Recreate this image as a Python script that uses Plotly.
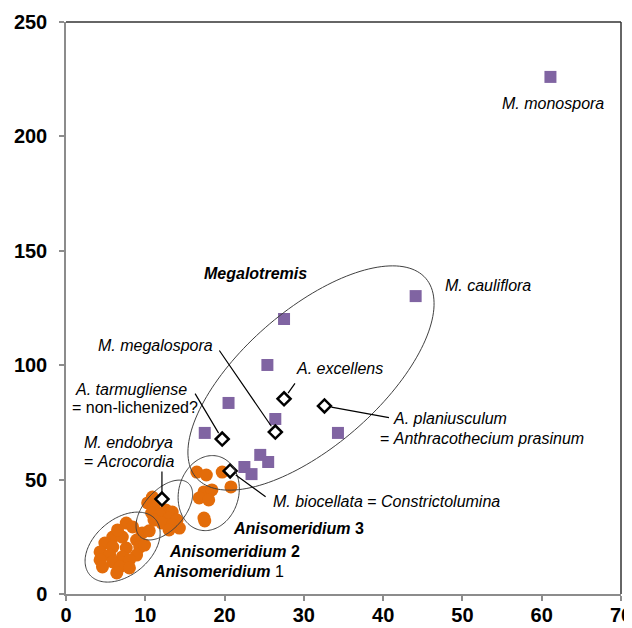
"""Megalotremis / Anisomeridium scatter with group ellipses."""

import numpy as np
import plotly.graph_objects as go

# --- data ----------------------------------------------------------------
aniso_x = [7.6, 8.4, 9.6, 10.5, 5.9, 7.1, 8.9, 4.9, 5.9, 7.6, 9.3, 4.3, 5.5, 7.1, 8.9,
           4.3, 5.9, 8.0, 4.6, 6.8, 6.4, 8.0, 6.5, 9.9,
           10.9, 10.3, 11.1, 12.6, 13.4, 10.8, 11.8, 13.0, 14.0, 11.1, 12.1, 13.4, 14.3, 13.0,
           16.5, 17.7, 19.7, 20.8, 17.4, 18.4, 16.8, 18.0, 17.4, 17.5]
aniso_y = [31.0, 29.3, 26.7, 27.6, 24.9, 24.9, 23.6, 22.3, 20.5, 20.1, 20.5, 18.4, 17.0, 16.2, 17.0,
           14.9, 14.0, 14.9, 11.8, 11.8, 9.2, 11.4, 28.0, 21.4,
           42.4, 39.8, 38.0, 36.7, 35.8, 35.4, 34.5, 33.2, 32.3, 32.3, 31.0, 30.2, 28.8, 28.0,
           53.3, 52.0, 53.3, 46.8, 44.6, 45.5, 42.0, 41.1, 33.2, 31.9]

megalo_x = [61.1, 44.1, 27.5, 25.4, 20.5, 17.5, 26.4, 34.3, 24.5, 25.5, 22.5, 23.4]
megalo_y = [226.0, 130.2, 120.2, 100.1, 83.5, 70.4, 76.5, 70.4, 60.8, 57.7, 55.5, 52.4]

other_names = ["A. tarmugliense", "M. megalospora", "A. excellens",
               "A. planiusculum", "M. biocellata", "M. endobrya"]
other_x = [19.7, 26.4, 27.5, 32.6, 20.7, 12.1]
other_y = [67.7, 70.8, 85.3, 82.2, 53.8, 41.5]

ORANGE = "#E36C0A"
PURPLE = "#8064A2"
FONT = "Liberation Sans, Arial, sans-serif"

# the page body adds 8px, so margins are trimmed to land the plot where the original sits
W, H = 632, 628
M = dict(l=58, r=19, t=14, b=42)
X_MAX, Y_MAX = 70, 250
kx = (W - M["l"] - M["r"]) / X_MAX   # px per x unit
ky = (H - M["t"] - M["b"]) / Y_MAX   # px per y unit


def ellipse_path(cx, cy, a, b, angle, n=160):
    """Ellipse drawn in screen pixels (a, b, angle) around a data-space centre."""
    t = np.linspace(0, 2 * np.pi, n)
    th = np.radians(angle)
    dx = a * np.cos(t) * np.cos(th) - b * np.sin(t) * np.sin(th)
    dy = a * np.cos(t) * np.sin(th) + b * np.sin(t) * np.cos(th)
    xs = cx + dx / kx
    ys = cy + dy / ky
    pts = [f"{x:.3f},{y:.3f}" for x, y in zip(xs, ys)]
    return "M " + " L ".join(pts) + " Z"


fig = go.Figure()

fig.add_trace(go.Scatter(
    x=aniso_x, y=aniso_y, mode="markers",
    marker=dict(symbol="circle", size=13, color=ORANGE, line=dict(width=0)),
    name="Anisomeridium",
))
fig.add_trace(go.Scatter(
    x=megalo_x, y=megalo_y, mode="markers",
    marker=dict(symbol="square", size=12, color=PURPLE, line=dict(width=0)),
    name="Megalotremis",
))
fig.add_trace(go.Scatter(
    x=other_x, y=other_y, mode="markers", text=other_names,
    marker=dict(symbol="diamond", size=10, color="white", line=dict(color="black", width=2.5)),
    name="other",
))

# group ellipses
for cx, cy, a, b, ang in [
    (30.9, 94.4, 152, 68, 41),   # Megalotremis
    (7.14, 20.5, 43, 28, 40),    # Anisomeridium 1
    (12.4, 36.7, 36, 20, 48),    # Anisomeridium 2
    (18.0, 44.1, 38, 30, 75),    # Anisomeridium 3
]:
    fig.add_shape(type="path", path=ellipse_path(cx, cy, a, b, ang), xref="x", yref="y",
                  line=dict(color="#404040", width=1), fillcolor="rgba(0,0,0,0)", layer="above")

# leader lines: offsets in px from the marker to the label end
leaders = {"M. megalospora": (-57, -83), "A. excellens": (12, -17), "A. tarmugliense": (-28, -47),
           "M. endobrya": (0, -29), "A. planiusculum": (66, 12), "M. biocellata": (37, 27)}
for name, x, y in zip(other_names, other_x, other_y):
    ax, ay = leaders[name]
    fig.add_annotation(x=x, y=y, ax=ax, ay=ay, text="", showarrow=True, arrowhead=0,
                       arrowwidth=1.2, arrowcolor="black", standoff=7)

labels = [
    ("<b><i>Megalotremis</i></b>", 23.9, 140.1, "center"),
    ("<i>M. monospora</i>", 61.4, 214.6, "center"),
    ("<i>M. cauliflora</i>", 47.6, 134.8, "left"),
    ("<i>M. megalospora</i>", 11.27, 108.8, "center"),
    ("<i>A. excellens</i>", 28.8, 98.6, "left"),
    ("<i>A. tarmugliense</i>", 8.14, 89.6, "center"),
    ("= non-lichenized?", 8.64, 81.7, "center"),
    ("<i>A. planiusculum</i>", 41.0, 76.5, "left"),
    ("= <i>Anthracothecium prasinum</i>", 39.4, 67.9, "left"),
    ("<i>M. endobrya</i>", 7.9, 66.0, "center"),
    ("= <i>Acrocordia</i>", 7.9, 57.7, "center"),
    ("<i>M. biocellata</i> = <i>Constrictolumina</i>", 25.9, 40.3, "left"),
    ("<b><i>Anisomeridium</i> 3</b>", 20.75, 28.8, "left"),
    ("<b><i>Anisomeridium</i> 2</b>", 12.77, 18.5, "left"),
    ("<b><i>Anisomeridium</i></b> 1", 10.73, 9.7, "left"),
]
for text, x, y, anchor in labels:
    fig.add_annotation(x=x, y=y, text=text, showarrow=False, xanchor=anchor, yanchor="middle",
                       font=dict(family=FONT, size=16, color="black"))

# dark top and right frame
fig.add_shape(type="line", xref="paper", yref="paper", x0=0, x1=1, y0=1, y1=1,
              line=dict(color="#333333", width=1.5))
fig.add_shape(type="line", xref="paper", yref="paper", x0=1, x1=1, y0=0, y1=1,
              line=dict(color="#333333", width=1.5))

axis_common = dict(showgrid=False, zeroline=False, showline=True, linecolor="#8c8c8c", linewidth=1.5,
                   ticks="outside", ticklen=5, tickcolor="#8c8c8c", tickwidth=1.5,
                   ticklabeloverflow="allow", automargin=False,
                   tickfont=dict(family=FONT, size=20, color="black", weight="bold"))

fig.update_layout(
    width=W, height=H, margin=M,
    paper_bgcolor="white", plot_bgcolor="white",
    showlegend=False,
    font=dict(family=FONT),
    xaxis=dict(range=[0, X_MAX], dtick=10, ticklabelstandoff=-3, **axis_common),
    yaxis=dict(range=[0, Y_MAX], dtick=50, ticklabelstandoff=8, **axis_common),
)

fig.write_html("out.html")
